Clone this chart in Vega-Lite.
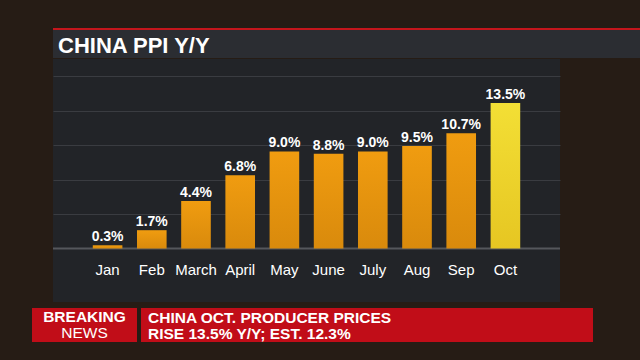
{
  "$schema": "https://vega.github.io/schema/vega-lite/v6.json",
  "background": "#261c15",
  "padding": {"left": 32, "top": 28, "right": 0, "bottom": 20},
  "autosize": {"type": "pad"},
  "config": {"view": {"stroke": null}, "font": "Liberation Sans"},
  "spacing": 6,
  "vconcat": [
    {
      "spacing": 19,
      "hconcat": [
        {"width": 1, "height": 1, "data": {"values": []}, "mark": "point"},
        {
          "spacing": 0,
          "vconcat": [
            {
              "width": 588,
              "height": 29,
              "view": {"fill": "#2b2d32", "stroke": "#c4161c", "strokeWidth": 2, "strokeDash": [588, 2000]},
              "data": {"values": [{"title": "CHINA PPI Y/Y"}]},
              "mark": {"type": "text", "align": "left", "baseline": "alphabetic", "fontWeight": "bold", "fontSize": 22, "color": "#ffffff", "dx": 5, "dy": 9},
              "encoding": {
                "x": {"field": "title", "type": "nominal", "scale": {"type": "point", "align": 0, "padding": 0}, "axis": null},
                "text": {"field": "title"}
              }
            },
            {
              "width": 507,
              "height": 243,
              "view": {"fill": "#222428", "stroke": null},
              "data": {"values": [
                {"month": "Jan", "ppi": 0.3, "label": "0.3%"},
                {"month": "Feb", "ppi": 1.7, "label": "1.7%"},
                {"month": "March", "ppi": 4.4, "label": "4.4%"},
                {"month": "April", "ppi": 6.8, "label": "6.8%"},
                {"month": "May", "ppi": 9.0, "label": "9.0%"},
                {"month": "June", "ppi": 8.8, "label": "8.8%"},
                {"month": "July", "ppi": 9.0, "label": "9.0%"},
                {"month": "Aug", "ppi": 9.5, "label": "9.5%"},
                {"month": "Sep", "ppi": 10.7, "label": "10.7%"},
                {"month": "Oct", "ppi": 13.5, "label": "13.5%"}
              ]},
              "layer": [
                {
                  "data": {"values": [{"ppi": 0}]},
                  "mark": {"type": "rule", "color": "#55575c", "strokeWidth": 2},
                  "encoding": {
                    "y": {
                      "field": "ppi", "type": "quantitative",
                      "scale": {"domain": [-4.96, 17.58], "nice": false, "zero": false},
                      "axis": {"values": [3.2, 6.4, 9.6, 12.8, 16], "grid": true, "gridColor": "#3a3c41", "gridWidth": 1, "labels": false, "ticks": false, "domain": false, "title": null}
                    }
                  }
                },
                {
                  "mark": {"type": "bar"},
                  "encoding": {
                    "x": {
                      "field": "month", "type": "nominal", "sort": null,
                      "scale": {"paddingInner": 0.33, "paddingOuter": 0.9},
                      "axis": {"orient": "bottom", "offset": -53.5, "domain": false, "ticks": false, "grid": false, "labelPadding": 14, "labelFontSize": 15, "labelColor": "#ffffff", "labelAngle": 0, "title": null}
                    },
                    "y": {
                      "field": "ppi", "type": "quantitative",
                      "scale": {"domain": [-4.96, 17.58], "nice": false, "zero": false},
                      "axis": {"values": [3.2, 6.4, 9.6, 12.8, 16], "grid": true, "gridColor": "#3a3c41", "gridWidth": 1, "labels": false, "ticks": false, "domain": false, "title": null}
                    },
                    "y2": {"datum": 0},
                    "fill": {
                      "condition": {"test": "datum.month === 'Oct'", "value": {"gradient": "linear", "x1": 0, "y1": 0, "x2": 0, "y2": 1, "stops": [{"offset": 0, "color": "#f3df35"}, {"offset": 1, "color": "#e6c622"}]}},
                      "value": {"gradient": "linear", "x1": 0, "y1": 0, "x2": 0, "y2": 1, "stops": [{"offset": 0, "color": "#f09c10"}, {"offset": 1, "color": "#d98a0c"}]}
                    }
                  }
                },
                {
                  "mark": {"type": "text", "baseline": "alphabetic", "dy": -4, "fontSize": 14, "fontWeight": "bold", "color": "#ffffff"},
                  "encoding": {
                    "x": {"field": "month", "type": "nominal", "sort": null},
                    "y": {
                      "field": "ppi", "type": "quantitative",
                      "axis": {"values": [3.2, 6.4, 9.6, 12.8, 16], "grid": true, "gridColor": "#3a3c41", "gridWidth": 1, "labels": false, "ticks": false, "domain": false, "title": null}
                    },
                    "text": {"field": "label"}
                  }
                }
              ]
            }
          ]
        }
      ]
    },
    {
      "spacing": 4,
      "hconcat": [
        {
          "width": 105,
          "height": 34,
          "view": {"fill": "#c10d18", "stroke": null},
          "data": {"values": [{"word": "BREAKING", "line": 1}, {"word": "NEWS", "line": 2}]},
          "encoding": {
            "y": {"field": "line", "type": "ordinal", "scale": {"type": "point", "padding": 0.596, "align": 0.781}, "axis": null},
            "text": {"field": "word"}
          },
          "layer": [
            {"transform": [{"filter": "datum.line === 1"}], "mark": {"type": "text", "fontWeight": "bold", "fontSize": 15.5, "color": "#ffffff", "baseline": "alphabetic"}},
            {"transform": [{"filter": "datum.line === 2"}], "mark": {"type": "text", "fontWeight": "normal", "fontSize": 15.5, "color": "#ffffff", "baseline": "alphabetic"}}
          ]
        },
        {
          "width": 452,
          "height": 34,
          "view": {"fill": "#c10d18", "stroke": null},
          "data": {"values": [
            {"box": "headline", "line": 1, "text": "CHINA OCT. PRODUCER PRICES"},
            {"box": "headline", "line": 2, "text": "RISE 13.5% Y/Y; EST. 12.3%"}
          ]},
          "mark": {"type": "text", "align": "left", "baseline": "alphabetic", "fontWeight": "bold", "fontSize": 15.5, "color": "#ffffff", "dx": 7},
          "encoding": {
            "x": {"field": "box", "type": "nominal", "scale": {"type": "point", "align": 0, "padding": 0}, "axis": null},
            "y": {"field": "line", "type": "ordinal", "scale": {"type": "point", "padding": 0.5625, "align": 0.861}, "axis": null},
            "text": {"field": "text"}
          }
        }
      ]
    }
  ]
}
